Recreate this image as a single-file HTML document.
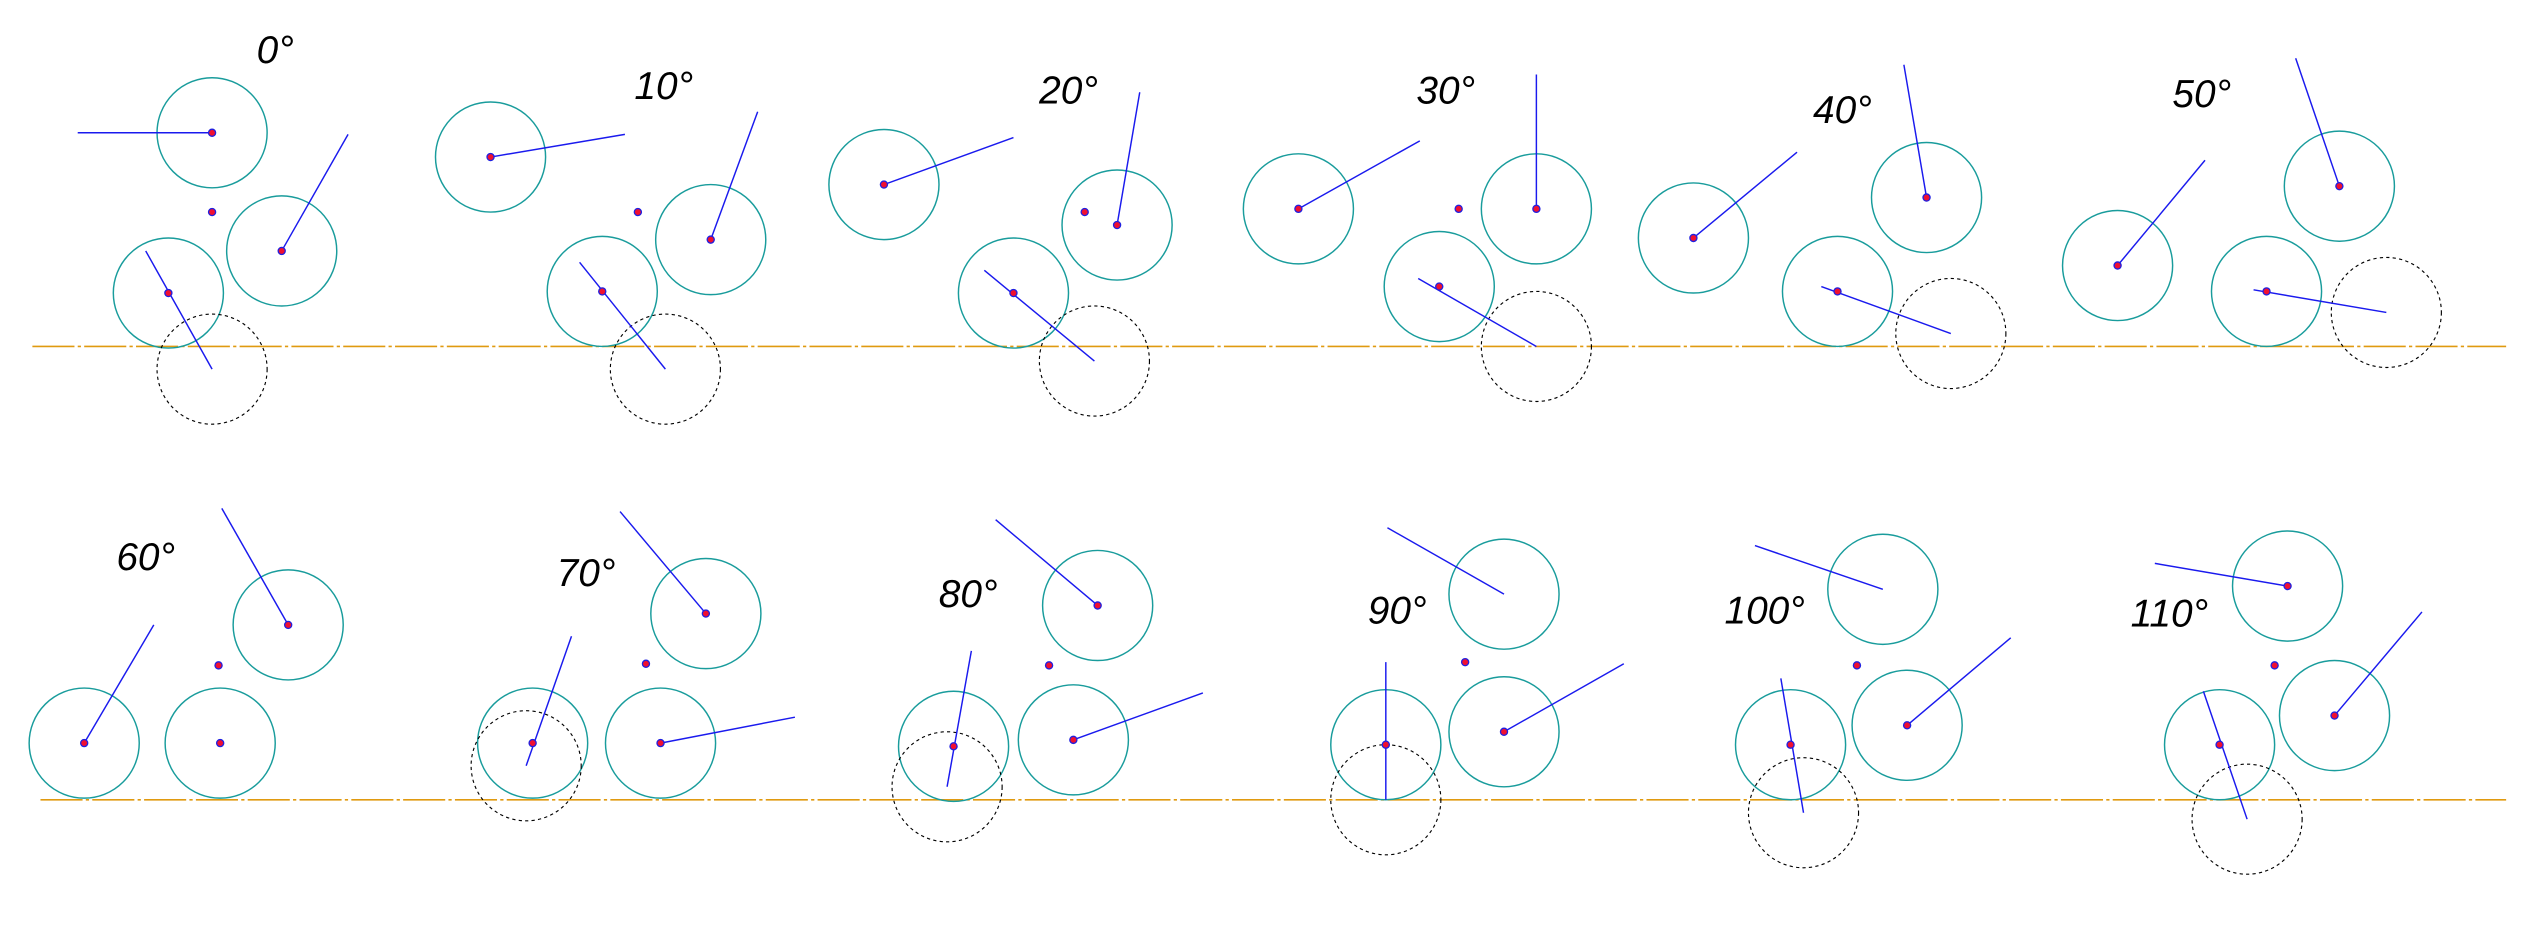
<!DOCTYPE html>
<html><head><style>html,body{margin:0;padding:0;background:#fff;}svg{display:block}</style></head>
<body>
<svg width="2539" height="933" viewBox="0 0 1568.3 576.3" xmlns="http://www.w3.org/2000/svg">
<g fill="none" stroke="#e09a10" stroke-width="1" stroke-dasharray="26,2,2,2">
<line x1="20" y1="214" x2="1548" y2="214"/>
<line x1="25" y1="494" x2="1548" y2="494"/>
</g>
<g fill="none" stroke="#199c9c" stroke-width="0.9" id="c">
<circle cx="131" cy="82" r="34"/><circle cx="174" cy="155" r="34"/><circle cx="104" cy="181" r="34"/>
<circle cx="303" cy="97" r="34"/><circle cx="439" cy="148" r="34"/><circle cx="372" cy="180" r="34"/>
<circle cx="546" cy="114" r="34"/><circle cx="690" cy="139" r="34"/><circle cx="626" cy="181" r="34"/>
<circle cx="802" cy="129" r="34"/><circle cx="949" cy="129" r="34"/><circle cx="889" cy="177" r="34"/>
<circle cx="1046" cy="147" r="34"/><circle cx="1190" cy="122" r="34"/><circle cx="1135" cy="180" r="34"/>
<circle cx="1308" cy="164" r="34"/><circle cx="1445" cy="115" r="34"/><circle cx="1400" cy="180" r="34"/>
<circle cx="52" cy="459" r="34"/><circle cx="178" cy="386" r="34"/><circle cx="136" cy="459" r="34"/>
<circle cx="436" cy="379" r="34"/><circle cx="408" cy="459" r="34"/><circle cx="329" cy="459" r="34"/>
<circle cx="678" cy="374" r="34"/><circle cx="663" cy="457" r="34"/><circle cx="589" cy="461" r="34"/>
<circle cx="929" cy="367" r="34"/><circle cx="929" cy="452" r="34"/><circle cx="856" cy="460" r="34"/>
<circle cx="1163" cy="364" r="34"/><circle cx="1178" cy="448" r="34"/><circle cx="1106" cy="460" r="34"/>
<circle cx="1413" cy="362" r="34"/><circle cx="1442" cy="442" r="34"/><circle cx="1371" cy="460" r="34"/>
</g>
<g fill="none" stroke="#000" stroke-width="0.7" stroke-dasharray="2,2">
<circle cx="131" cy="228" r="34"/><circle cx="411" cy="228" r="34"/><circle cx="676" cy="223" r="34"/>
<circle cx="949" cy="214" r="34"/><circle cx="1205" cy="206" r="34"/><circle cx="1474" cy="193" r="34"/>
<circle cx="325" cy="473" r="34"/><circle cx="585" cy="486" r="34"/><circle cx="856" cy="494" r="34"/>
<circle cx="1114" cy="502" r="34"/><circle cx="1388" cy="506" r="34"/>
</g>
<g stroke="#1a1aee" stroke-width="0.9">
<line x1="131" y1="82" x2="48" y2="82"/><line x1="174" y1="155" x2="215" y2="83"/><line x1="90" y1="155" x2="131" y2="228"/>
<line x1="303" y1="97" x2="386" y2="83"/><line x1="439" y1="148" x2="468" y2="69"/><line x1="358" y1="162" x2="411" y2="228"/>
<line x1="546" y1="114" x2="626" y2="85"/><line x1="690" y1="139" x2="704" y2="57"/><line x1="608" y1="167" x2="676" y2="223"/>
<line x1="802" y1="129" x2="877" y2="87"/><line x1="949" y1="129" x2="949" y2="46"/><line x1="876" y1="172" x2="949" y2="214"/>
<line x1="1046" y1="147" x2="1110" y2="94"/><line x1="1190" y1="122" x2="1176" y2="40"/><line x1="1125" y1="177" x2="1205" y2="206"/>
<line x1="1308" y1="164" x2="1362" y2="99"/><line x1="1445" y1="115" x2="1418" y2="36"/><line x1="1392" y1="179" x2="1474" y2="193"/>
<line x1="52" y1="459" x2="95" y2="386"/><line x1="178" y1="386" x2="137" y2="314"/>
<line x1="436" y1="379" x2="383" y2="316"/><line x1="408" y1="459" x2="491" y2="443"/><line x1="325" y1="473" x2="353" y2="393"/>
<line x1="678" y1="374" x2="615" y2="321"/><line x1="663" y1="457" x2="743" y2="428"/><line x1="585" y1="486" x2="600" y2="402"/>
<line x1="929" y1="367" x2="857" y2="326"/><line x1="929" y1="452" x2="1003" y2="410"/><line x1="856" y1="494" x2="856" y2="409"/>
<line x1="1163" y1="364" x2="1084" y2="337"/><line x1="1178" y1="448" x2="1242" y2="394"/><line x1="1114" y1="502" x2="1100" y2="419"/>
<line x1="1413" y1="362" x2="1331" y2="348"/><line x1="1442" y1="442" x2="1496" y2="378"/><line x1="1388" y1="506" x2="1361" y2="427"/>
</g>
<g fill="#f01030" stroke="#2020e0" stroke-width="0.8">
<circle cx="131" cy="82" r="2.2"/><circle cx="131" cy="131" r="2.2"/><circle cx="174" cy="155" r="2.2"/><circle cx="104" cy="181" r="2.2"/>
<circle cx="303" cy="97" r="2.2"/><circle cx="394" cy="131" r="2.2"/><circle cx="439" cy="148" r="2.2"/><circle cx="372" cy="180" r="2.2"/>
<circle cx="546" cy="114" r="2.2"/><circle cx="670" cy="131" r="2.2"/><circle cx="690" cy="139" r="2.2"/><circle cx="626" cy="181" r="2.2"/>
<circle cx="802" cy="129" r="2.2"/><circle cx="901" cy="129" r="2.2"/><circle cx="949" cy="129" r="2.2"/><circle cx="889" cy="177" r="2.2"/>
<circle cx="1046" cy="147" r="2.2"/><circle cx="1190" cy="122" r="2.2"/><circle cx="1135" cy="180" r="2.2"/>
<circle cx="1308" cy="164" r="2.2"/><circle cx="1445" cy="115" r="2.2"/><circle cx="1400" cy="180" r="2.2"/>
<circle cx="52" cy="459" r="2.2"/><circle cx="135" cy="411" r="2.2"/><circle cx="178" cy="386" r="2.2"/><circle cx="136" cy="459" r="2.2"/>
<circle cx="436" cy="379" r="2.2"/><circle cx="399" cy="410" r="2.2"/><circle cx="408" cy="459" r="2.2"/><circle cx="329" cy="459" r="2.2"/>
<circle cx="678" cy="374" r="2.2"/><circle cx="648" cy="411" r="2.2"/><circle cx="663" cy="457" r="2.2"/><circle cx="589" cy="461" r="2.2"/>
<circle cx="905" cy="409" r="2.2"/><circle cx="929" cy="452" r="2.2"/><circle cx="856" cy="460" r="2.2"/>
<circle cx="1147" cy="411" r="2.2"/><circle cx="1178" cy="448" r="2.2"/><circle cx="1106" cy="460" r="2.2"/>
<circle cx="1413" cy="362" r="2.2"/><circle cx="1405" cy="411" r="2.2"/><circle cx="1442" cy="442" r="2.2"/><circle cx="1371" cy="460" r="2.2"/>
</g>
<g font-family="Liberation Sans, sans-serif" font-style="italic" font-size="24" fill="#000" text-anchor="middle" transform="" style="font-weight:normal">
<text x="170" y="39">0°</text><text x="410" y="61">10°</text><text x="660" y="64">20°</text>
<text x="893" y="64">30°</text><text x="1138" y="76">40°</text><text x="1360" y="66">50°</text>
<text x="90" y="352">60°</text><text x="362" y="362">70°</text><text x="598" y="375">80°</text>
<text x="863" y="385">90°</text><text x="1090" y="385">100°</text><text x="1340" y="387">110°</text>
</g>
</svg>
</body></html>
